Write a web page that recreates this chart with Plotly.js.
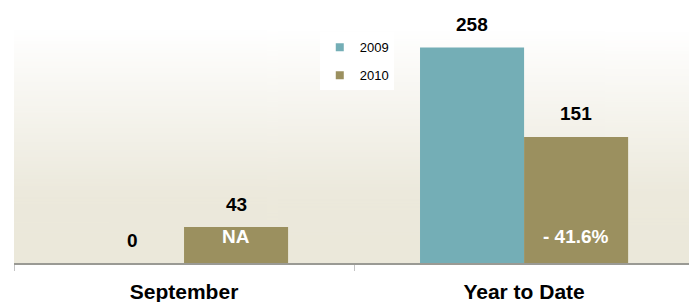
<!DOCTYPE html>
<html>
<head>
<meta charset="utf-8">
<script src="https://cdn.plot.ly/plotly-3.0.1.min.js"></script>
<style>html,body{margin:0;padding:0;background:#fff;}#chart{width:689px;height:302px;}</style>
</head>
<body>
<div id="chart"></div>
<script>
// ---- data ----
const categories = ["September", "Year to Date"];
const seriesNames = ["2009", "2010"];
const values2009 = [0, 258];
const values2010 = [43, 151];
const changeLabels = ["NA", "- 41.6%"];
const colors = ["#74aeb6", "#9b905f"];

// background gradient for the plot area
const cv = document.createElement("canvas");
cv.width = 4; cv.height = 256;
const ctx = cv.getContext("2d");
const g = ctx.createLinearGradient(0, 0, 0, 256);
g.addColorStop(0, "#ffffff");
g.addColorStop(0.7, "#ece9dc");
g.addColorStop(1, "#ebe8da");
ctx.fillStyle = g; ctx.fillRect(0, 0, 4, 256);
const bgURI = cv.toDataURL("image/png");

const bargap = 0.388;
const half = (1 - bargap) / 4; // half of one bar's width in category units

const traces = [
  {type: "bar", name: seriesNames[0], x: categories, y: values2009, marker: {color: colors[0]}, showlegend: false},
  {type: "bar", name: seriesNames[1], x: categories, y: values2010, marker: {color: colors[1]}, showlegend: false},
  {type: "scatter", mode: "markers", name: seriesNames[0], x: [null], y: [null], legendgroup: "a",
   marker: {symbol: "square", size: 8, color: colors[0]}},
  {type: "scatter", mode: "markers", name: seriesNames[1], x: [null], y: [null], legendgroup: "b",
   marker: {symbol: "square", size: 8, color: colors[1]}}
];

const annotations = [];
const labelFont = {family: "Liberation Sans, Arial, sans-serif", size: 19, color: "#000"};
categories.forEach((c, i) => {
  annotations.push({x: i - half, y: values2009[i], xref: "x", yref: "y", text: "<b>" + values2009[i] + "</b>",
    showarrow: false, yanchor: "middle", yshift: 23, font: labelFont});
  annotations.push({x: i + half, y: values2010[i], xref: "x", yref: "y", text: "<b>" + values2010[i] + "</b>",
    showarrow: false, yanchor: "middle", yshift: 23, font: labelFont});
  annotations.push({x: i + half, y: 0, xref: "x", yref: "y", text: "<b>" + changeLabels[i] + "</b>",
    showarrow: false, yanchor: "middle", yshift: 27,
    font: {family: "Liberation Sans, Arial, sans-serif", size: 19, color: "#ffffff"}});
});

const layout = {
  width: 689, height: 302,
  margin: {l: 14, r: 0, t: 30, b: 39},
  paper_bgcolor: "#ffffff",
  plot_bgcolor: "rgba(0,0,0,0)",
  barmode: "group",
  bargap: bargap,
  bargroupgap: 0,
  font: {family: "Liberation Sans, Arial, sans-serif", color: "#000"},
  xaxis: {
    type: "category", range: [-0.5, 1.485],
    showline: true, linecolor: "#9a9a94", linewidth: 1.5,
    ticks: "outside", tickson: "boundaries", ticklen: 6, tickcolor: "#c4c4c4", tickwidth: 1,
    ticklabelstandoff: 9,
    tickfont: {family: "Liberation Sans, Arial, sans-serif", size: 21, color: "#000", weight: "bold"},
    showgrid: false, zeroline: false, fixedrange: true
  },
  yaxis: {
    range: [0, 279], visible: false, showgrid: false, zeroline: false, fixedrange: true
  },
  showlegend: true,
  legend: {
    x: 0.453, y: 0.99, xanchor: "left", yanchor: "top",
    bgcolor: "#ffffff", borderwidth: 0,
    traceorder: "grouped", tracegroupgap: 8,
    font: {family: "Liberation Sans, Arial, sans-serif", size: 13, color: "#000"},
    itemwidth: 30
  },
  images: [{source: bgURI, xref: "paper", yref: "paper", x: 0, y: 1, sizex: 1, sizey: 1,
    sizing: "stretch", layer: "below", xanchor: "left", yanchor: "top"}],
  annotations: annotations
};

Plotly.newPlot("chart", traces, layout, {displayModeBar: false, staticPlot: true});
</script>
</body>
</html>
